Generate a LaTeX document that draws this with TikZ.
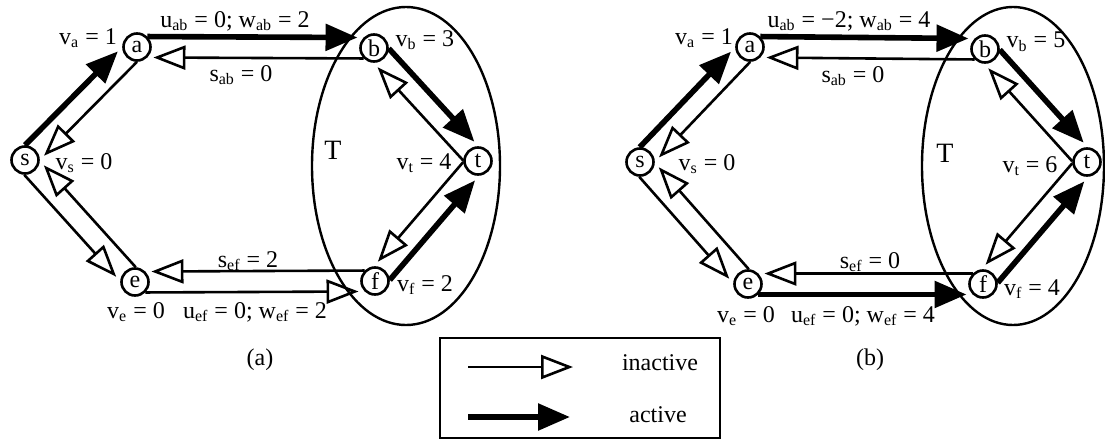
\documentclass[tikz,border=0pt]{standalone}
\usepackage{fontspec}
\setmainfont{Liberation Serif}
\usetikzlibrary{arrows.meta}

\tikzstyle{vert} = [circle, draw, line width=1.3pt, fill=white, minimum size=13.5pt, inner sep=0pt, font=\fontsize{12}{13}\selectfont]
\tikzstyle{lbl} = [inner sep=0pt, font=\fontsize{12}{14}\selectfont]
\tikzstyle{actarc} = [line width=2.8pt, -{Triangle[length=16pt,width=13pt]}, shorten >=3pt]
\tikzstyle{inarc} = [line width=1.3pt, -{Triangle[open,length=16pt,width=12pt]}, shorten >=3pt]
\tikzstyle{region} = [line width=1.2pt]

\newcommand{\sub}[1]{\textsubscript{#1}}

\begin{document}
\begin{tikzpicture}[x=0.5pt, y=0.5pt]
    \useasboundingbox (0,0) rectangle (1105,-440);

    \draw[region] (406,-166) ellipse [x radius=94, y radius=159];
    \draw[region] (1013,-166) ellipse [x radius=91, y radius=159];

    \node (s1) [vert] at (25,-160) {s};
    \node (a1) [vert] at (137,-47) {a};
    \node (b1) [vert] at (374,-48) {b};
    \node (t1) [vert] at (478,-161) {t};
    \node (e1) [vert] at (135,-282) {e};
    \node (f1) [vert] at (375,-281) {f};

    \node (s2) [vert] at (640,-162) {s};
    \node (a2) [vert] at (750,-47) {a};
    \node (b2) [vert] at (985,-49) {b};
    \node (t2) [vert] at (1087,-162) {t};
    \node (e2) [vert] at (748,-284) {e};
    \node (f2) [vert] at (983,-284) {f};

    \draw [actarc] (s1.90) -- (a1.180);
    \draw [inarc] (a1.270) -- (s1.0);
    \draw [actarc] (a1.45) -- (b1.135);
    \draw [inarc] (b1.225) -- (a1.315);
    \draw [actarc] (b1.-2) -- (t1.88);
    \draw [inarc] (t1.178) -- (b1.268);
    \draw [inarc] (s1.-93) -- (e1.177);
    \draw [inarc] (e1.87) -- (s1.357);
    \draw [inarc] (e1.-45) -- (f1.225);
    \draw [inarc] (f1.135) -- (e1.45);
    \draw [actarc] (f1.4) -- (t1.274);
    \draw [inarc] (t1.184) -- (f1.94);

    \draw [actarc] (s2.91) -- (a2.181);
    \draw [inarc] (a2.271) -- (s2.1);
    \draw [actarc] (a2.45) -- (b2.135);
    \draw [inarc] (b2.225) -- (a2.315);
    \draw [actarc] (b2.-3) -- (t2.87);
    \draw [inarc] (t2.177) -- (b2.267);
    \draw [inarc] (s2.-93) -- (e2.177);
    \draw [inarc] (e2.87) -- (s2.357);
    \draw [actarc] (e2.-45) -- (f2.225);
    \draw [inarc] (f2.135) -- (e2.45);
    \draw [actarc] (f2.5) -- (t2.275);
    \draw [inarc] (t2.185) -- (f2.95);

    \node (va1) [lbl] at (88,-38) {v\sub{a} = 1};
    \node (uab1) [lbl] at (235,-21) {u\sub{ab} = 0; w\sub{ab} = 2};
    \node (sab1) [lbl] at (241,-75) {s\sub{ab} = 0};
    \node (vb1) [lbl] at (425,-40) {v\sub{b} = 3};
    \node (T1) [lbl, font=\fontsize{14}{15}\selectfont] at (333,-150) {T};
    \node (vt1) [lbl] at (424,-163) {v\sub{t} = 4};
    \node (vs1) [lbl] at (84,-163) {v\sub{s} = 0};
    \node (sef1) [lbl] at (248,-261) {s\sub{ef} = 2};
    \node (vf1) [lbl] at (425,-285) {v\sub{f} = 2};
    \node (ve1) [lbl] at (136,-312) {v\sub{e} = 0};
    \node (uef1) [lbl] at (255,-312) {u\sub{ef} = 0; w\sub{ef} = 2};
    \node (cap1) [lbl] at (260,-360) {(a)};

    \node (va2) [lbl] at (704,-38) {v\sub{a} = 1};
    \node (uab2) [lbl] at (849,-21) {u\sub{ab} = −2; w\sub{ab} = 4};
    \node (sab2) [lbl] at (853,-76) {s\sub{ab} = 0};
    \node (vb2) [lbl] at (1036,-42) {v\sub{b} = 5};
    \node (T2) [lbl, font=\fontsize{14}{15}\selectfont] at (945,-153) {T};
    \node (vt2) [lbl] at (1030,-166) {v\sub{t} = 6};
    \node (vs2) [lbl] at (707,-164) {v\sub{s} = 0};
    \node (sef2) [lbl] at (870,-262) {s\sub{ef} = 0};
    \node (vf2) [lbl] at (1032,-289) {v\sub{f} = 4};
    \node (ve2) [lbl] at (746,-316) {v\sub{e} = 0};
    \node (uef2) [lbl] at (863,-316) {u\sub{ef} = 0; w\sub{ef} = 4};
    \node (cap2) [lbl] at (870,-360) {(b)};

    \draw[line width=1.2pt] (440,-338) rectangle (720,-438);
    \coordinate (in1) at (468,-367);
    \coordinate (in2) at (573,-367);
    \coordinate (ac1) at (468,-417);
    \coordinate (ac2) at (570,-417);
    \draw [inarc, shorten >=0pt] (in1) -- (in2);
    \draw [actarc, shorten >=0pt] (ac1) -- (ac2);
    \node (inact) [lbl] at (660,-363) {inactive};
    \node (act) [lbl] at (658,-415) {active};
\end{tikzpicture}
\end{document}
